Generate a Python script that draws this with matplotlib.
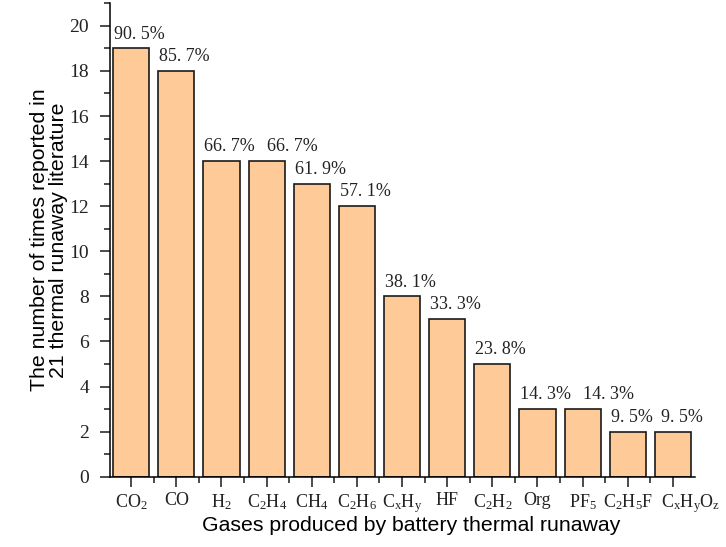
import matplotlib
matplotlib.use("Agg")
import matplotlib.pyplot as plt
from matplotlib.ticker import MultipleLocator, FixedLocator
from matplotlib.transforms import ScaledTranslation

gases = [r"$\mathregular{CO_2}$", "CO", r"$\mathregular{H_2}$", r"$\mathregular{C_2H_4}$",
         r"$\mathregular{CH_4}$", r"$\mathregular{C_2H_6}$", r"$\mathregular{C_xH_y}$", "HF",
         r"$\mathregular{C_2H_2}$", "Org", r"$\mathregular{PF_5}$", r"$\mathregular{C_2H_5F}$",
         r"$\mathregular{C_xH_yO_z}$"]
counts = [19, 18, 14, 14, 13, 12, 8, 7, 5, 3, 3, 2, 2]
percents = ["90. 5%", "85. 7%", "66. 7%", "66. 7%", "61. 9%", "57. 1%", "38. 1%",
            "33. 3%", "23. 8%", "14. 3%", "14. 3%", "9. 5%", "9. 5%"]

plt.rcParams['mathtext.fontset'] = 'custom'
plt.rcParams['mathtext.rm'] = 'Liberation Serif'
plt.rcParams['mathtext.it'] = 'Liberation Serif:italic'
plt.rcParams['mathtext.bf'] = 'Liberation Serif:bold'

serif = 'Liberation Serif'
sans = 'Liberation Sans'

fig = plt.figure(figsize=(7.26, 5.47), dpi=100)
ax = fig.add_axes([110 / 726, 1 - 476.7 / 547, (695 - 110) / 726, (476.7 - 3.3) / 547])

x = list(range(len(counts)))
bars = ax.bar(x, counts, width=0.8, color='#FDCA98', edgecolor='#1a1a1a', linewidth=1.2, zorder=2)

for i, (b, p) in enumerate(zip(bars, percents)):
    shift = 0.4 if i > 0 and counts[i] == counts[i - 1] else 0.02
    if i == len(counts) - 1:
        shift = 0.13
    ax.annotate(p, (b.get_x() + shift, b.get_height()), xytext=(0, 7),
                textcoords='offset points', ha='left', va='baseline',
                fontsize=13, family=serif, color='#222222')

ax.set_xlim(-0.47, 12.49)
ax.set_ylim(0, 21)
ax.set_xticks(x)
ax.set_xticklabels(gases, family=serif, fontsize=13)
ax.xaxis.set_minor_locator(FixedLocator([i + 0.5 for i in range(12)]))
ax.yaxis.set_major_locator(MultipleLocator(2))
ax.yaxis.set_minor_locator(MultipleLocator(1))
for lab in ax.get_yticklabels():
    lab.set_family(serif)
    lab.set_fontsize(14)

ax.spines['top'].set_visible(False)
ax.spines['right'].set_visible(False)
ax.spines['left'].set_linewidth(1.1)
ax.spines['bottom'].set_linewidth(1.1)
ax.tick_params(axis='both', which='major', direction='out', length=7, width=1.1, color='#1a1a1a')
ax.tick_params(axis='both', which='minor', direction='out', length=4, width=1.1, color='#1a1a1a')
ax.tick_params(axis='y', which='major', pad=8, labelcolor='#222222')
ax.tick_params(axis='x', which='major', pad=4, labelcolor='#222222')

# last label sits a bit to the right in the original
last = ax.get_xticklabels()[-1]
last.set_transform(last.get_transform() + ScaledTranslation(0.18, 0, fig.dpi_scale_trans))

ax.set_xlabel("Gases produced by battery thermal runaway", family=sans, fontsize=15.3, labelpad=1)
ax.xaxis.label.set_x(0.515)
ax.set_ylabel("The number of times reported in\n21 thermal runaway literature",
              family=sans, fontsize=15.3, linespacing=1.0, labelpad=1)

fig.savefig("out.png", dpi=100)
